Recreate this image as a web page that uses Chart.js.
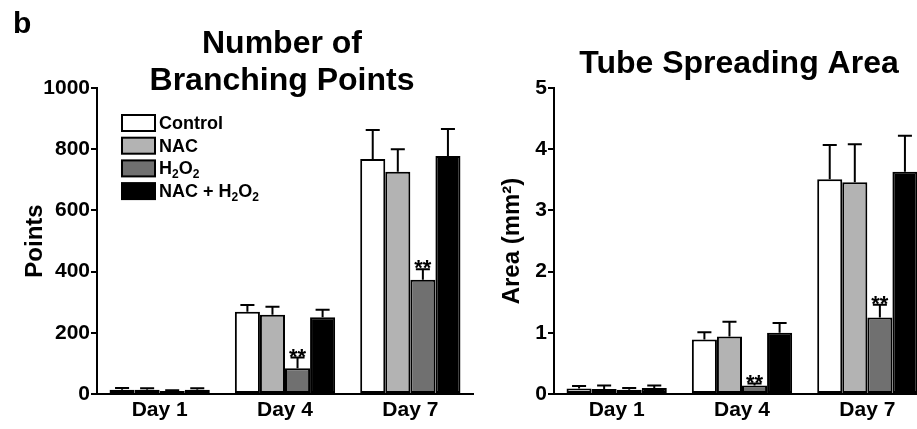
<!DOCTYPE html>
<html><head><meta charset="utf-8">
<script src="https://cdn.jsdelivr.net/npm/chart.js@4.4.1/dist/chart.umd.min.js"></script>
<style>
html,body{margin:0;padding:0;width:917px;height:429px;overflow:hidden;background:#fff;}
#wrap{position:relative;width:917px;height:429px;overflow:hidden;background:#fff;}
canvas{position:absolute;top:0;}
#c1{left:0;} #c2{left:460px;}
</style></head><body>
<div id="wrap">
<canvas id="c1" width="476" height="429"></canvas>
<canvas id="c2" width="476" height="429"></canvas>
</div>
<script>
// ---------- data ----------
const categories = ['Day 1', 'Day 4', 'Day 7'];
const seriesNames = ['Control', 'NAC', 'H₂O₂', 'NAC + H₂O₂'];
const seriesColors = ['#ffffff', '#b3b3b3', '#707070', '#000000'];

// Number of branching points (mean, SEM)
const pointsControl = [14, 269, 768];
const pointsNAC = [14, 259, 726];
const pointsH2O2 = [10, 84, 373];
const pointsNACH2O2 = [14, 251, 778];
const pointsControlErr = [6, 22, 95];
const pointsNACErr = [5, 26, 74];
const pointsH2O2Err = [2, 35, 35];
const pointsNACH2O2Err = [5, 24, 88];

// Tube spreading area (mm²)
const areaControl = [0.09, 0.89, 3.51];
const areaNAC = [0.08, 0.94, 3.46];
const areaH2O2 = [0.07, 0.14, 1.25];
const areaNACH2O2 = [0.10, 1.00, 3.63];
const areaControlErr = [0.04, 0.12, 0.56];
const areaNACErr = [0.06, 0.24, 0.62];
const areaH2O2Err = [0.03, 0.03, 0.21];
const areaNACH2O2Err = [0.04, 0.16, 0.59];

// significance marks on the H2O2 series
const h2o2Marks = ['', '**', '**'];

const pointsTicks = [0, 200, 400, 600, 800, 1000];
const areaTicks = [0, 1, 2, 3, 4, 5];

const panelLabel = 'b';
const titleLeft = ['Number of', 'Branching Points'];
const titleRight = ['Tube Spreading Area'];
const yTitleLeft = 'Points';
const yTitleRight = 'Area (mm²)';

// ---------- helpers ----------
const FONT = '"Liberation Sans", Arial, Helvetica, sans-serif';
Chart.defaults.font.family = FONT;
Chart.defaults.color = '#000';

const SUB = {'₀':'0','₁':'1','₂':'2','₃':'3','₄':'4','₅':'5','₆':'6','₇':'7','₈':'8','₉':'9'};
function richParts(text) {
  const parts = []; let cur = '', curSub = null;
  for (const ch of text) {
    const isSub = ch in SUB;
    if (curSub !== null && isSub !== curSub && cur) { parts.push([cur, curSub]); cur = ''; }
    curSub = isSub; cur += isSub ? SUB[ch] : ch;
  }
  if (cur) parts.push([cur, curSub]);
  return parts;
}
function drawRich(ctx, text, x, y, size) {
  const parts = richParts(text);
  ctx.textAlign = 'left'; ctx.textBaseline = 'alphabetic';
  let cx = x;
  for (const [t, sub] of parts) {
    const s = sub ? Math.round(size * 0.68) : size;
    ctx.font = 'bold ' + s + 'px ' + FONT;
    ctx.fillText(t, cx, y + (sub ? size * 0.22 : 0));
    cx += ctx.measureText(t).width;
  }
}

function makeDatasets(values, errs) {
  return values.map((v, i) => ({
    label: seriesNames[i],
    data: v,
    errors: errs[i],
    marks: i === 2 ? h2o2Marks : null,
    backgroundColor: seriesColors[i],
    borderColor: '#000',
    borderWidth: 2,
    borderSkipped: false,
    categoryPercentage: 0.8,
    barPercentage: 1.0
  }));
}

const errorBarPlugin = {
  id: 'errorBars',
  afterDatasetsDraw(chart) {
    const ctx = chart.ctx; const ys = chart.scales.y;
    chart.data.datasets.forEach((ds, i) => {
      const meta = chart.getDatasetMeta(i);
      meta.data.forEach((bar, j) => {
        const v = ds.data[j], e = ds.errors[j];
        const yTop = ys.getPixelForValue(v + e);
        const half = bar.width * 0.28;
        ctx.save();
        ctx.strokeStyle = '#000'; ctx.lineWidth = 2;
        ctx.beginPath();
        ctx.moveTo(bar.x, bar.y); ctx.lineTo(bar.x, yTop);
        ctx.moveTo(bar.x - half, yTop); ctx.lineTo(bar.x + half, yTop);
        ctx.stroke();
        if (ds.marks && ds.marks[j]) {
          ctx.fillStyle = '#000';
          ctx.font = 'bold 22px ' + FONT;
          ctx.textAlign = 'center'; ctx.textBaseline = 'alphabetic';
          ctx.fillText(ds.marks[j], bar.x, yTop + 6);
        }
        ctx.restore();
      });
    });
  }
};

const titlePlugin = {
  id: 'panelTitle',
  afterDraw(chart, args, opts) {
    const ctx = chart.ctx; const ca = chart.chartArea;
    ctx.save(); ctx.fillStyle = '#000';
    ctx.font = 'bold 32px ' + FONT;
    ctx.textAlign = 'center'; ctx.textBaseline = 'alphabetic';
    const cx = (ca.left + ca.right) / 2 - 3;
    opts.lines.forEach((t, k) => ctx.fillText(t, cx, ca.top + opts.baseline + k * 37));
    if (opts.letter) {
      ctx.textAlign = 'left';
      ctx.font = 'bold 30px ' + FONT;
      ctx.fillText(opts.letter, 13, 33);
    }
    ctx.restore();
  }
};

const legendPlugin = {
  id: 'boxLegend',
  afterDraw(chart, args, opts) {
    if (!opts.show) return;
    const ctx = chart.ctx; const ca = chart.chartArea;
    ctx.save();
    chart.data.datasets.forEach((ds, i) => {
      const bx = ca.left + 25, by = ca.top + 27 + i * 22.7;
      ctx.fillStyle = ds.backgroundColor;
      ctx.fillRect(bx, by, 33, 16);
      ctx.strokeStyle = '#000'; ctx.lineWidth = 2;
      ctx.strokeRect(bx, by, 33, 16);
      ctx.fillStyle = '#000';
      drawRich(ctx, ds.label, bx + 37, by + 14, 18);
    });
    ctx.restore();
  }
};

function makeChart(id, values, errs, ticks, yTitle, yTitlePad, yWidth, rightPad, titleOpts, showLegend) {
  return new Chart(document.getElementById(id), {
    type: 'bar',
    data: { labels: categories, datasets: makeDatasets(values, errs) },
    plugins: [errorBarPlugin, titlePlugin, legendPlugin],
    options: {
      responsive: false,
      animation: false,
      events: [],
      layout: { padding: { top: 88, right: rightPad, bottom: 0, left: 0 } },
      plugins: {
        legend: { display: false },
        tooltip: { enabled: false },
        title: { display: false },
        panelTitle: titleOpts,
        boxLegend: { show: showLegend }
      },
      scales: {
        x: {
          offset: true,
          grid: { display: false, drawTicks: false },
          border: { display: true, color: '#000', width: 2 },
          ticks: { font: { size: 21, weight: 'bold' }, color: '#000', padding: 4, maxRotation: 0 },
          afterFit(s) { s.height = 35; }
        },
        y: {
          min: ticks[0], max: ticks[ticks.length - 1],
          afterBuildTicks(s) { s.ticks = ticks.map(v => ({ value: v })); },
          grid: { display: true, drawOnChartArea: false, drawTicks: true, tickLength: 6, color: '#000', lineWidth: 2 },
          border: { display: true, color: '#000', width: 2 },
          ticks: { font: { size: 21, weight: 'bold' }, color: '#000', padding: 1, callback: v => String(v) },
          title: { display: true, text: yTitle, font: { size: 24, weight: 'bold' }, color: '#000', padding: { top: yTitlePad, bottom: 0 } },
          afterFit(s) { s.width = yWidth; }
        }
      }
    }
  });
}

makeChart('c1',
  [pointsControl, pointsNAC, pointsH2O2, pointsNACH2O2],
  [pointsControlErr, pointsNACErr, pointsH2O2Err, pointsNACH2O2Err],
  pointsTicks, yTitleLeft, 21, 97, 3,
  { lines: titleLeft, baseline: -35, letter: panelLabel }, true);

makeChart('c2',
  [areaControl, areaNAC, areaH2O2, areaNACH2O2],
  [areaControlErr, areaNACErr, areaH2O2Err, areaNACH2O2Err],
  areaTicks, yTitleRight, 38, 94, 6,
  { lines: titleRight, baseline: -15, letter: null }, false);
</script>
</body></html>
